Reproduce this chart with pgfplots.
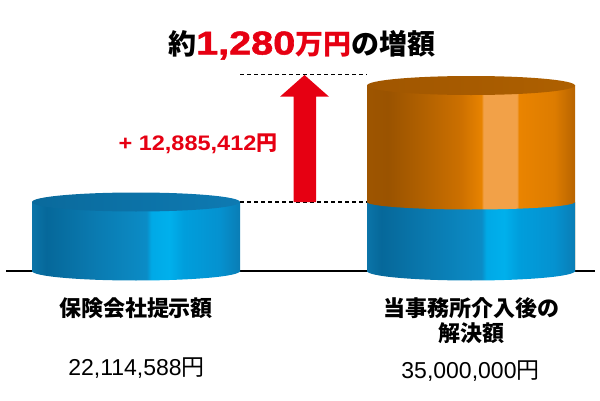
\documentclass[border=0pt]{standalone}
\usepackage{pgfplots}
\pgfplotsset{compat=1.18}
\usepackage{fontspec}
\usepackage{graphicx}
\newfontfamily\jp{Noto Sans CJK JP}
\newfontfamily\lat{Liberation Sans}
\newfontfamily\heavy{Liberation Sans Bold}[FakeBold=1.5]

\definecolor{jpred}{HTML}{E60012}
% blue body
\definecolor{b0}{HTML}{0B74A8}
\definecolor{b1}{HTML}{06689A}
\definecolor{b2}{HTML}{0A7AB0}
\definecolor{b3}{HTML}{0B8CC6}
\definecolor{b4}{HTML}{00A9E6}
\definecolor{b5}{HTML}{00B0EC}
\definecolor{b6}{HTML}{009EDC}
\definecolor{b7}{HTML}{0592D0}
\definecolor{b8}{HTML}{0A7DB5}
% orange body
\definecolor{o0}{HTML}{9E5500}
\definecolor{o1}{HTML}{9A5300}
\definecolor{o2}{HTML}{B06000}
\definecolor{o3}{HTML}{CC7000}
\definecolor{o4}{HTML}{E88300}
\definecolor{o5}{HTML}{F2A148}
\definecolor{o6}{HTML}{EA8400}
\definecolor{o7}{HTML}{DD7C00}
\definecolor{o8}{HTML}{B86400}
% top faces
\definecolor{bt0}{HTML}{0A6A9C}
\definecolor{bt1}{HTML}{0E7AB2}
\definecolor{ot0}{HTML}{A05600}
\definecolor{ot1}{HTML}{AE6000}

\pgfdeclarehorizontalshading{cylblue}{100bp}{color(0bp)=(b0); color(25bp)=(b0);
  color(28.5bp)=(b1); color(40bp)=(b2); color(52.5bp)=(b3); color(53.7bp)=(b4);
  color(58bp)=(b5); color(61.5bp)=(b6); color(70bp)=(b7); color(75bp)=(b8); color(100bp)=(b8)}
\pgfdeclarehorizontalshading{cylorange}{100bp}{color(0bp)=(o0); color(25bp)=(o0);
  color(30bp)=(o1); color(38bp)=(o2); color(47.5bp)=(o3); color(52.5bp)=(o4);
  color(53bp)=(o5); color(61bp)=(o5); color(61.5bp)=(o6); color(70bp)=(o7); color(75bp)=(o8); color(100bp)=(o8)}
\pgfdeclarehorizontalshading{topblue}{100bp}{color(0bp)=(bt0); color(25bp)=(bt0); color(75bp)=(bt1); color(100bp)=(bt1)}
\pgfdeclarehorizontalshading{toporange}{100bp}{color(0bp)=(ot0); color(25bp)=(ot0); color(75bp)=(ot1); color(100bp)=(ot1)}

% ellipses for the cylinder ends (half width 104pt = half the bar width)
\pgfdeclareplotmark{botblue}{\pgfpathellipse{\pgfpointorigin}{\pgfqpoint{104pt}{0pt}}{\pgfqpoint{0pt}{9.5pt}}\pgfshadepath{cylblue}{0}\pgfusepath{discard}}
\pgfdeclareplotmark{topblue}{\pgfpathellipse{\pgfpointorigin}{\pgfqpoint{104pt}{0pt}}{\pgfqpoint{0pt}{9.5pt}}\pgfshadepath{topblue}{0}\pgfusepath{discard}}
\pgfdeclareplotmark{botorange}{\pgfpathellipse{\pgfpointorigin}{\pgfqpoint{104pt}{0pt}}{\pgfqpoint{0pt}{7.5pt}}\pgfshadepath{cylorange}{0}\pgfusepath{discard}}
\pgfdeclareplotmark{toporange}{\pgfpathellipse{\pgfpointorigin}{\pgfqpoint{104pt}{0pt}}{\pgfqpoint{0pt}{9.5pt}}\pgfshadepath{toporange}{0}\pgfusepath{discard}}

\begin{document}
\begin{tikzpicture}
\useasboundingbox (0,0) rectangle (600pt,400pt);
\begin{axis}[
    at={(0pt,0pt)}, anchor=south west,
    scale only axis, width=600pt, height=400pt,
    hide axis, clip=false,
    xmin=0, xmax=600,
    % values in millions of yen; the part above 22.1 is drawn taller, as in the picture
    y coord trafo/.code={\pgfmathparse{#1<22.114588 ? 3.12012*#1 : 69+9.04121*(#1-22.114588)}},
    ymin=-41.345, ymax=44.457,
  ]
  \addplot[black, line width=1.5pt] coordinates {(6,0) (595,0)};
  \addplot[only marks, mark=botblue] coordinates {(136,0) (471,0)};
  \addplot[ybar, bar width=208, bar shift=0pt, draw=none, shading=cylorange] coordinates {(471,35)};
  \addplot[ybar, bar width=208, bar shift=0pt, draw=none, shading=cylblue] coordinates {(136,22.114588)};
  \addplot[ybar, bar width=208, bar shift=0pt, draw=none, shading=cylblue] coordinates {(471,22.114588)};
  \addplot[only marks, mark=topblue] coordinates {(136,22.114588)};
  \addplot[only marks, mark=botorange] coordinates {(471,22.114588)};
  \addplot[only marks, mark=toporange] coordinates {(471,35)};
  % guides and arrow
  \addplot[black, line width=1.3pt, dash pattern=on 4pt off 3pt] coordinates {(240,36.217) (367,36.217)};
  \addplot[black, line width=1.3pt, dash pattern=on 4pt off 3pt] coordinates {(240,22.114588) (367,22.114588)};
  \addplot[fill=jpred, draw=none] coordinates {(293.5,22.114588) (316,22.114588) (316,33.761)
    (329,33.761) (304.5,36.161) (280,33.761) (293.5,33.761)} -- cycle;
\end{axis}
\node[font=\jp\bfseries\fontsize{28}{28}\selectfont, inner sep=0pt] at (301.7pt,355pt)
  {約\textcolor{jpred}{{\heavy\fontsize{33}{33}\selectfont\scalebox{1.2}[1]{1,280}}万円}の増額};
\node[font=\jp\bfseries\fontsize{21}{21}\selectfont, text=jpred, inner sep=0pt] at (198pt,256pt)
  {\scalebox{1.12}[1]{\lat\bfseries + 12,885,412}円};
\node[font=\jp\bfseries\fontsize{22}{22}\selectfont, inner sep=0pt] at (136pt,92pt) {保険会社提示額};
\node[font=\jp\fontsize{23}{23}\selectfont, inner sep=0pt] at (136.5pt,32pt) {{\lat 22,114,588}円};
\node[font=\jp\bfseries\fontsize{22}{25}\selectfont, align=center, inner sep=0pt] at (471pt,79.5pt)
  {当事務所介入後の\\解決額};
\node[font=\jp\fontsize{23}{23}\selectfont, inner sep=0pt] at (470.5pt,28.5pt) {{\lat 35,000,000}円};
\end{tikzpicture}
\end{document}
